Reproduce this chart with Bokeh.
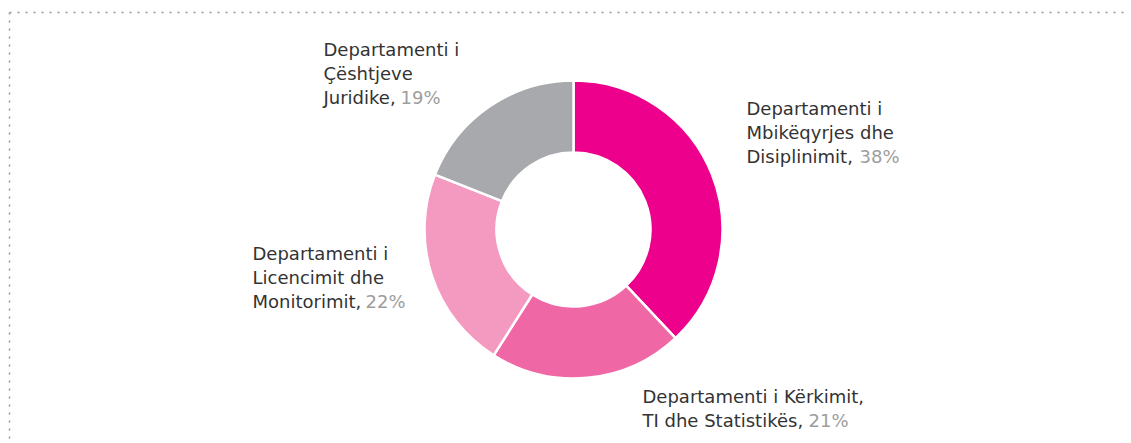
from bokeh.plotting import figure
from bokeh.models import Range1d
from bokeh.core.properties import value
from bokeh.embed import file_html
from bokeh.resources import INLINE
import math

# ---- data ----
departments = [
    "Departamenti i Mbikëqyrjes dhe Disiplinimit",
    "Departamenti i Kërkimit, TI dhe Statistikës",
    "Departamenti i Licencimit dhe Monitorimit",
    "Departamenti i Çështjeve Juridike",
]
shares = [38, 21, 22, 19]
pct_labels = ["38%", "21%", "22%", "19%"]
label_lines = [
    ["Departamenti i", "Mbikëqyrjes dhe", "Disiplinimit,"],
    ["Departamenti i Kërkimit,", "TI dhe Statistikës,"],
    ["Departamenti i", "Licencimit dhe", "Monitorimit,"],
    ["Departamenti i", "Çështjeve", "Juridike,"],
]
colors = ["#EC008C", "#F067A6", "#F49AC1", "#A7A9AC"]

# ---- layout (pixel-like coordinates) ----
W, H = 1131, 443
def X(px):
    return px
def Y(py):
    return H - py

cx, cy = X(573), Y(229)
r_out, r_in = 149, 77

# label anchors: left x, first baseline, pct x
label_pos = [
    (746, 108, 859),
    (642, 396, 808),
    (252, 253, 365),
    (323, 49, 400),
]
line_gap = 24

p = figure(width=W, height=H, output_backend="svg", toolbar_location=None,
           x_range=Range1d(0, W), y_range=Range1d(0, H),
           x_axis_type=None, y_axis_type=None, min_border=0,
           min_border_left=0, min_border_right=0, min_border_top=0, min_border_bottom=0)
p.grid.visible = False
p.outline_line_color = None
p.background_fill_color = "white"
p.border_fill_color = "white"

# dotted frame (top and left)
p.line(x=[X(9), X(9)], y=[Y(12), Y(443)], line_color="#9a9a9a", line_width=1.5, line_dash="2 6")
p.line(x=[X(9), X(1127)], y=[Y(12), Y(12)], line_color="#9a9a9a", line_width=1.5, line_dash="2 6")

total = float(sum(shares))
starts, ends = [], []
acc = 0.0
for s in shares:
    starts.append(math.pi / 2 - 2 * math.pi * acc / total)
    acc += s
    ends.append(math.pi / 2 - 2 * math.pi * acc / total)

p.annular_wedge(x=[cx] * len(shares), y=[cy] * len(shares),
                inner_radius=r_in, outer_radius=r_out,
                inner_radius_units="screen", outer_radius_units="screen",
                start_angle=starts, end_angle=ends, direction="clock",
                fill_color=colors, line_color="white", line_width=2.5)

font = value("DejaVu Sans")
for lines, (lx, by, pxp), pct in zip(label_lines, label_pos, pct_labels):
    xs = [X(lx)] * len(lines)
    ys = [Y(by + i * line_gap) for i in range(len(lines))]
    p.text(x=xs, y=ys, text=lines, text_font=font, text_font_size="18px",
           text_color="#333333", text_baseline="alphabetic", text_align="left")
    p.text(x=[X(pxp)], y=[Y(by + (len(lines) - 1) * line_gap)], text=[pct],
           text_font=font, text_font_size="18px", text_color="#9d9d9d",
           text_baseline="alphabetic", text_align="left")

open("out.html", "w").write(file_html(p, INLINE))
